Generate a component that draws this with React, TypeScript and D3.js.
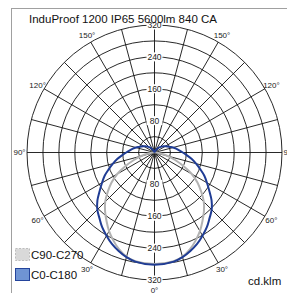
import * as d3 from "d3";

const W = 287;
const H = 293;
const CX = 154.5;
const CY = 152.5;
const R = 127.5;
const MAX_CD = 320;

const TITLE = "InduProof 1200 IP65 5600lm 840 CA";
const UNIT = "cd.klm";

// gamma angles (deg from nadir) and intensities
const gammas = [0, 10, 15, 20, 25, 30, 35, 40, 45, 50, 55, 60, 65, 70, 75, 80, 85, 90, 95, 100, 105, 110, 115, 120, 125, 130, 135, 140, 145, 150, 155, 160, 165, 170, 175, 180];
const c0c180 = [282, 278, 272, 263, 253, 241, 229, 215, 203, 187, 168, 152, 138, 122, 108, 95, 82, 71, 62, 55, 48, 41, 36, 31, 27, 23, 19, 15, 11, 8, 5, 3, 2, 1, 0, 0];
const c90c270 = [280, 277, 271, 259, 244, 228, 210, 193, 175, 153, 132, 108, 80, 55, 34, 18, 8, 3, 1, 0, 0, 0, 0, 0, 0, 0, 0, 0, 0, 0, 0, 0, 0, 0, 0, 0];

const ringValues = [40, 80, 120, 160, 200, 240, 280, 320];
const ringLabels = [80, 160, 240, 320];
const angleLabels = [0, 30, 60, 90, 120, 150];

const legendItems = [
  { label: "C90-C270", fill: "#d9d9d9", stroke: "#bdbdbd", dash: "2,1.5" },
  { label: "C0-C180", fill: "#6f94d4", stroke: "#24449c", dash: "" },
];

const rScale = d3.scaleLinear().domain([0, MAX_CD]).range([0, R]);
const toRad = (deg: number) => (deg * Math.PI) / 180;

type Pt = { a: number; v: number };

function curvePoints(values: number[]): Pt[] {
  const pts: Pt[] = [];
  for (let i = gammas.length - 1; i >= 0; i--) pts.push({ a: Math.PI - toRad(gammas[i]), v: values[i] });
  for (let i = 1; i < gammas.length; i++) pts.push({ a: Math.PI + toRad(gammas[i]), v: values[i] });
  return pts;
}

const radial = d3
  .lineRadial<Pt>()
  .angle((d) => d.a)
  .radius((d) => rScale(d.v))
  .curve(d3.curveCatmullRom);

const FONT = "'Liberation Sans', Arial, sans-serif";

export default function App() {
  const spokes = d3.range(0, 360, 15);
  return (
    <svg
      width={W}
      height={H}
      style={{ position: "absolute", left: 0, top: 0, display: "block", background: "#fff" }}
      fontFamily={FONT}
    >
      <rect x={11.5} y={8.5} width={W + 10} height={H + 10} fill="#fff" stroke="#a0a0a0" />
      <g transform={`translate(${CX},${CY})`}>
        {ringValues.map((v) => (
          <circle key={v} r={rScale(v)} fill="none" stroke="#111" strokeWidth={0.9} />
        ))}
        {spokes.map((deg) => (
          <line
            key={deg}
            x1={0}
            y1={0}
            x2={R * Math.sin(toRad(deg))}
            y2={-R * Math.cos(toRad(deg))}
            stroke="#111"
            strokeWidth={0.9}
          />
        ))}
        <path d={radial(curvePoints(c90c270)) ?? ""} fill="none" stroke="#b2b2b2" strokeWidth={2} />
        <path d={radial(curvePoints(c0c180)) ?? ""} fill="none" stroke="#1f3c94" strokeWidth={2} />
        {ringLabels.flatMap((v) =>
          [-1, 1].map((s) => (
            <g key={`${v}${s}`} transform={`translate(0,${s * rScale(v)})`}>
              <rect x={-8} y={-4.5} width={16} height={9} fill="#fff" />
              <text textAnchor="middle" dy="0.35em" fontSize={8.5} fill="#222">
                {v}
              </text>
            </g>
          ))
        )}
        {angleLabels.flatMap((g) =>
          (g === 0 ? [1] : [-1, 1]).map((s) => {
            const rr = g === 0 ? 138 : 135;
            const x = s * rr * Math.sin(toRad(g));
            const y = rr * Math.cos(toRad(g));
            return (
              <text key={`${g}${s}`} x={x} y={y} textAnchor="middle" dy="0.35em" fontSize={8} fill="#222">
                {`${g}°`}
              </text>
            );
          })
        )}
      </g>
      <text x={29} y={22.5} fontSize={11.5} fill="#111">
        {TITLE}
      </text>
      {legendItems.map((d, i) => (
        <g key={d.label} transform={`translate(15,${248 + i * 20})`}>
          <rect x={0.5} y={0.5} width={14} height={12} fill={d.fill} stroke={d.stroke} strokeDasharray={d.dash || undefined} />
          <text x={16} y={11} fontSize={11.5} fill="#111">
            {d.label}
          </text>
        </g>
      ))}
      <text x={248} y={285} fontSize={11.5} fill="#111">
        {UNIT}
      </text>
    </svg>
  );
}
